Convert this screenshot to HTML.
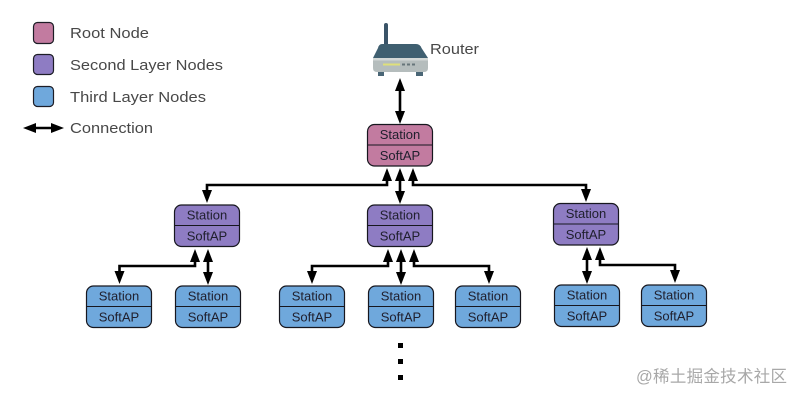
<!DOCTYPE html>
<html>
<head>
<meta charset="utf-8">
<style>
html,body{margin:0;padding:0;background:#fff;width:800px;height:400px;overflow:hidden}
svg{display:block}
text{font-family:"Liberation Sans","Noto Sans CJK SC",sans-serif}
.n{font-size:13px;fill:#20202e;text-anchor:middle}
.l{font-size:15px;fill:#484848}
.c{fill:none;stroke:#000;stroke-width:2.6}
</style>
</head>
<body>
<svg width="800" height="400" viewBox="0 0 800 400" xmlns="http://www.w3.org/2000/svg">
<defs>
<path id="u" d="M0 0L-5 13H5Z" fill="#000"/>
<path id="d" d="M0 0L-5 -13H5Z" fill="#000"/>
<g id="box">
<rect x="0.5" y="0" width="65" height="41.5" rx="7" ry="7" fill="inherit" stroke="#17171f" stroke-width="1.2"/>
<line x1="0.5" y1="20.500" x2="65.500" y2="20.500" stroke="#17171f" stroke-width="1.1"/>
<text class="n" x="33" y="14.500">Station</text>
<text class="n" x="33" y="35.500">SoftAP</text>
</g>
</defs>

<!-- legend -->
<rect x="33.500" y="22.500" width="20" height="21" rx="4" fill="#c27ba0" stroke="#1d1d26" stroke-width="1.2"/>
<rect x="33.500" y="54.500" width="20" height="20" rx="4" fill="#8e7cc3" stroke="#1d1d26" stroke-width="1.2"/>
<rect x="33.500" y="86.500" width="20" height="20" rx="4" fill="#6fa8dc" stroke="#1d1d26" stroke-width="1.2"/>
<text class="l" x="70" y="38" textLength="79" lengthAdjust="spacingAndGlyphs">Root Node</text>
<text class="l" x="70" y="70" textLength="153" lengthAdjust="spacingAndGlyphs">Second Layer Nodes</text>
<text class="l" x="70" y="102" textLength="136" lengthAdjust="spacingAndGlyphs">Third Layer Nodes</text>
<text class="l" x="70" y="133" textLength="83" lengthAdjust="spacingAndGlyphs">Connection</text>
<line x1="30" y1="128" x2="58" y2="128" stroke="#000" stroke-width="2.6"/>
<path d="M23 128L36 123V133Z M64 128L51 123V133Z" fill="#000"/>

<!-- router -->
<rect x="384" y="23" width="4" height="26" rx="2" fill="#3a5468"/>
<path d="M382 44H416Q420 44 421.500 48L428 58H373L378 48Q379 44 382 44Z" fill="#3f5f70"/>
<path d="M373 58H428V68Q428 72 424 72H377Q373 72 373 68Z" fill="#b5bdbd"/>
<rect x="373" y="58" width="55" height="2.500" fill="#d3d8d6"/>
<rect x="383" y="63.500" width="17" height="2" fill="#dfe07a"/>
<rect x="402" y="63.500" width="3" height="2" fill="#66757a"/>
<rect x="407" y="63.500" width="3" height="2" fill="#66757a"/>
<rect x="412" y="63.500" width="3" height="2" fill="#66757a"/>
<rect x="378" y="72" width="6" height="4" fill="#4a6676"/>
<rect x="416" y="72" width="7" height="4" fill="#4a6676"/>
<text class="l" x="430" y="54" textLength="49" lengthAdjust="spacingAndGlyphs">Router</text>

<!-- connectors -->
<path class="c" d="M400 85V118"/>
<path class="c" d="M400 175V197"/>
<path class="c" d="M387 176V185H207V195"/>
<path class="c" d="M413 176V185H586V194"/>
<path class="c" d="M195 258V266H119.500V275"/>
<path class="c" d="M208 258V277"/>
<path class="c" d="M388 258V266H312V275"/>
<path class="c" d="M401 258V277"/>
<path class="c" d="M414 258V266H489V275"/>
<path class="c" d="M587 255V276"/>
<path class="c" d="M600 255V265H675V274"/>
<use href="#u" x="400" y="78"/><use href="#d" x="400" y="124"/>
<use href="#u" x="400" y="168"/><use href="#d" x="400" y="204"/>
<use href="#u" x="387" y="168"/><use href="#d" x="207" y="203"/>
<use href="#u" x="413" y="168"/><use href="#d" x="586" y="202"/>
<use href="#u" x="195" y="249"/><use href="#d" x="119.500" y="284"/>
<use href="#u" x="208" y="249"/><use href="#d" x="208" y="285"/>
<use href="#u" x="388" y="249"/><use href="#d" x="312" y="284"/>
<use href="#u" x="401" y="249"/><use href="#d" x="401" y="285"/>
<use href="#u" x="414" y="249"/><use href="#d" x="489" y="284"/>
<use href="#u" x="587" y="247"/><use href="#d" x="587" y="284"/>
<use href="#u" x="600" y="247"/><use href="#d" x="675" y="283"/>

<!-- nodes -->
<use href="#box" x="367" y="124.500" fill="#c27ba0"/>
<use href="#box" x="174" y="205" fill="#8e7cc3"/>
<use href="#box" x="367" y="205" fill="#8e7cc3"/>
<use href="#box" x="553" y="203.500" fill="#8e7cc3"/>
<use href="#box" x="86" y="286" fill="#6fa8dc"/>
<use href="#box" x="175" y="286" fill="#6fa8dc"/>
<use href="#box" x="279" y="286" fill="#6fa8dc"/>
<use href="#box" x="368" y="286" fill="#6fa8dc"/>
<use href="#box" x="455" y="286" fill="#6fa8dc"/>
<use href="#box" x="554" y="285" fill="#6fa8dc"/>
<use href="#box" x="641" y="285" fill="#6fa8dc"/>

<!-- dots -->
<rect x="398" y="343" width="5" height="5" fill="#000"/>
<rect x="398" y="359" width="5" height="5" fill="#000"/>
<rect x="398" y="375" width="5" height="5" fill="#000"/>

<!-- watermark -->
<text x="636" y="382" font-size="16.500" fill="#a8a8a8" textLength="151">@稀土掘金技术社区</text>
</svg>
</body>
</html>
